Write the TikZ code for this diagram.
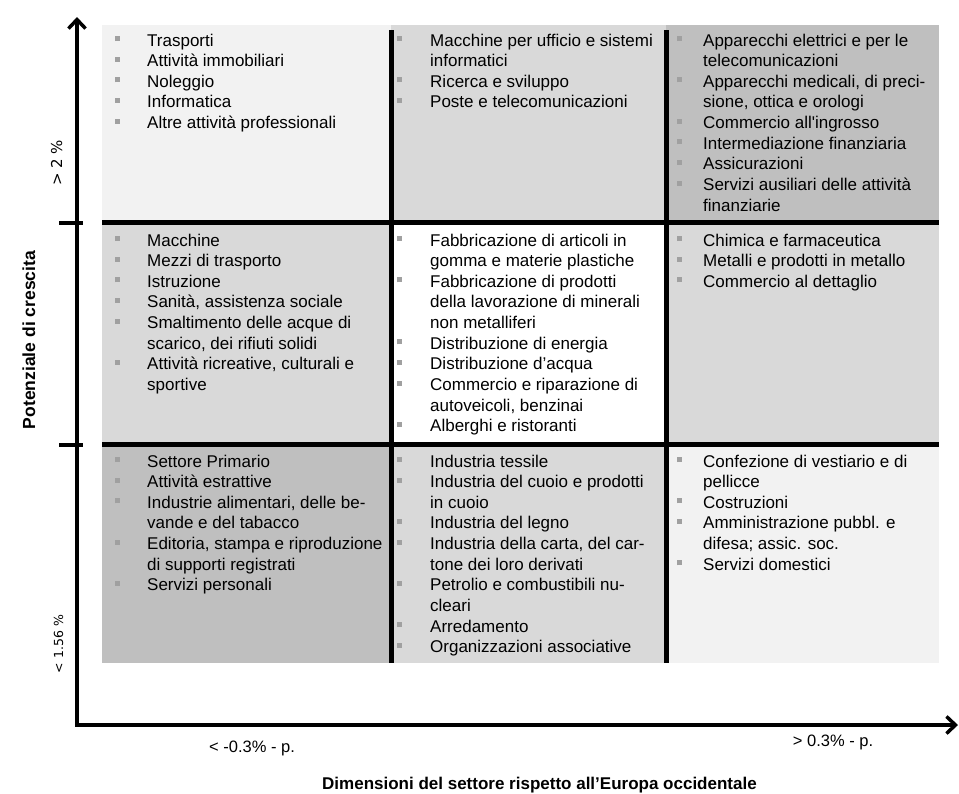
\documentclass[tikz,border=0pt]{standalone}
\usepackage{xcolor}
\usepackage{fontspec}
\setmainfont{Liberation Sans}
\newfontfamily\labelfont{DejaVu Sans}
\usepackage{tikz}
\usetikzlibrary{arrows.meta}

\definecolor{celllight}{HTML}{F2F2F2}
\definecolor{cellmid}{HTML}{D9D9D9}
\definecolor{celldark}{HTML}{BFBFBF}
\definecolor{bulgray}{HTML}{A0A0A0}

\newlength{\bulgap}
\newcommand{\sq}{\llap{\textcolor{bulgray}{\rule[5pt]{5pt}{5pt}}\hspace{\bulgap}}}
\newcommand{\lista}[1]{\begin{tabular}[t]{@{}l@{}}#1\end{tabular}}

\tikzset{
  sector/.style={anchor=base west, inner sep=0pt, font=\fontsize{17}{20.65}\selectfont,
    execute at begin node={\setlength{\bulgap}{#1}}},
  divider/.style={line width=5pt},
  axis/.style={line width=4pt},
  barb/.tip={Straight Barb[length=9pt,width=17pt,line width=3.5pt]},
  axislabel/.style={rotate=90, anchor=base, inner sep=0pt, font=\labelfont\fontsize{#1}{14}\selectfont},
  scalelabel/.style={anchor=base, inner sep=0pt, font=\fontsize{16.5}{19}\selectfont}
}

\begin{document}
\begin{tikzpicture}[x=1pt,y=1pt,yscale=-1,xscale=1]
\useasboundingbox (0,0) rectangle (959,793);
% cells
\fill [celllight] (102,25) rectangle (391,222.5);
\fill [cellmid] (391,25) rectangle (666,222.5);
\fill [celldark] (666,25) rectangle (939,222.5);
\fill [cellmid] (102,222.5) rectangle (391,444.5);
\fill [white] (391,222.5) rectangle (666,444.5);
\fill [cellmid] (666,222.5) rectangle (939,444.5);
\fill [celldark] (102,444.5) rectangle (391,663);
\fill [cellmid] (391,444.5) rectangle (666,663);
\fill [celllight] (666,444.5) rectangle (939,663);
% grid lines
\draw [divider] (102,222.5) -- (939,222.5) ;
\draw [divider] (102,444.5) -- (939,444.5) ;
\draw [divider] (391,30) -- (391,663) ;
\draw [divider] (666,30) -- (666,663) ;
% axes
\coordinate (O) at (77,725);
\coordinate (ytip) at (77,17);
\coordinate (xtip) at (958,725);
\draw [axis, barb-barb] (ytip) -- (O) -- (xtip) ;
\draw [axis] (59,222.5) -- (83,222.5) ;
\draw [axis] (59,444.5) -- (83,444.5) ;
% labels
\draw (35,340) node (crescita) [rotate=90, anchor=base, inner sep=0pt, font=\bfseries\fontsize{17.5}{20}\selectfont] {Potenziale di crescita};
\draw (62,163) node (alto) [axislabel=15] {> 2 \%};
\draw (63,644) node (basso) [axislabel=12.5] {< 1.56 \%};
\draw (252,752) node (piccolo) [scalelabel] {< -0.3\% - p.};
\draw (833,746) node (grande) [scalelabel] {> 0.3\% - p.};
\draw (322,789) node (dimensioni) [anchor=base west, inner sep=0pt, font=\bfseries\fontsize{17}{20}\selectfont] {Dimensioni del settore rispetto all’Europa occidentale};
% top row
\draw (147,46) node (servizi) [sector=27pt] {\lista{%
\sq Trasporti\\
\sq Attività immobiliari\\
\sq Noleggio\\
\sq Informatica\\
\sq Altre attività professionali}};
\draw (430,46) node (ricerca) [sector=28pt] {\lista{%
\sq Macchine per ufficio e sistemi\\
informatici\\
\sq Ricerca e sviluppo\\
\sq Poste e telecomunicazioni}};
\draw (703,46) node (finanza) [sector=21pt] {\lista{%
\sq Apparecchi elettrici e per le\\
telecomunicazioni\\
\sq Apparecchi medicali, di preci-\\
sione, ottica e orologi\\
\sq Commercio all\textquotesingle ingrosso\\
\sq Intermediazione finanziaria\\
\sq Assicurazioni\\
\sq Servizi ausiliari delle attività\\
finanziarie}};
% middle row
\draw (147,246) node (macchine) [sector=27pt] {\lista{%
\sq Macchine\\
\sq Mezzi di trasporto\\
\sq Istruzione\\
\sq Sanità, assistenza sociale\\
\sq Smaltimento delle acque di\\
scarico, dei rifiuti solidi\\
\sq Attività ricreative, culturali e\\
sportive}};
\draw (430,246) node (fabbricazione) [sector=28pt] {\lista{%
\sq Fabbricazione di articoli in\\
gomma e materie plastiche\\
\sq Fabbricazione di prodotti\\
della lavorazione di minerali\\
non metalliferi\\
\sq Distribuzione di energia\\
\sq Distribuzione d’acqua\\
\sq Commercio e riparazione di\\
autoveicoli, benzinai\\
\sq Alberghi e ristoranti}};
\draw (703,246) node (chimica) [sector=21pt] {\lista{%
\sq Chimica e farmaceutica\\
\sq Metalli e prodotti in metallo\\
\sq Commercio al dettaglio}};
% bottom row
\draw (147,467) node (primario) [sector=27pt] {\lista{%
\sq Settore Primario\\
\sq Attività estrattive\\
\sq Industrie alimentari, delle be-\\
vande e del tabacco\\
\sq Editoria, stampa e riproduzione\\
di supporti registrati\\
\sq Servizi personali}};
\draw (430,467) node (tessile) [sector=28pt] {\lista{%
\sq Industria tessile\\
\sq Industria del cuoio e prodotti\\
in cuoio\\
\sq Industria del legno\\
\sq Industria della carta, del car-\\
tone dei loro derivati\\
\sq Petrolio e combustibili nu-\\
cleari\\
\sq Arredamento\\
\sq Organizzazioni associative}};
\draw (703,467) node (costruzioni) [sector=21pt] {\lista{%
\sq Confezione di vestiario e di\\
pellicce\\
\sq Costruzioni\\
\sq Amministrazione pubbl. e\\
difesa; assic. soc.\\
\sq Servizi domestici}};
\end{tikzpicture}
\end{document}
